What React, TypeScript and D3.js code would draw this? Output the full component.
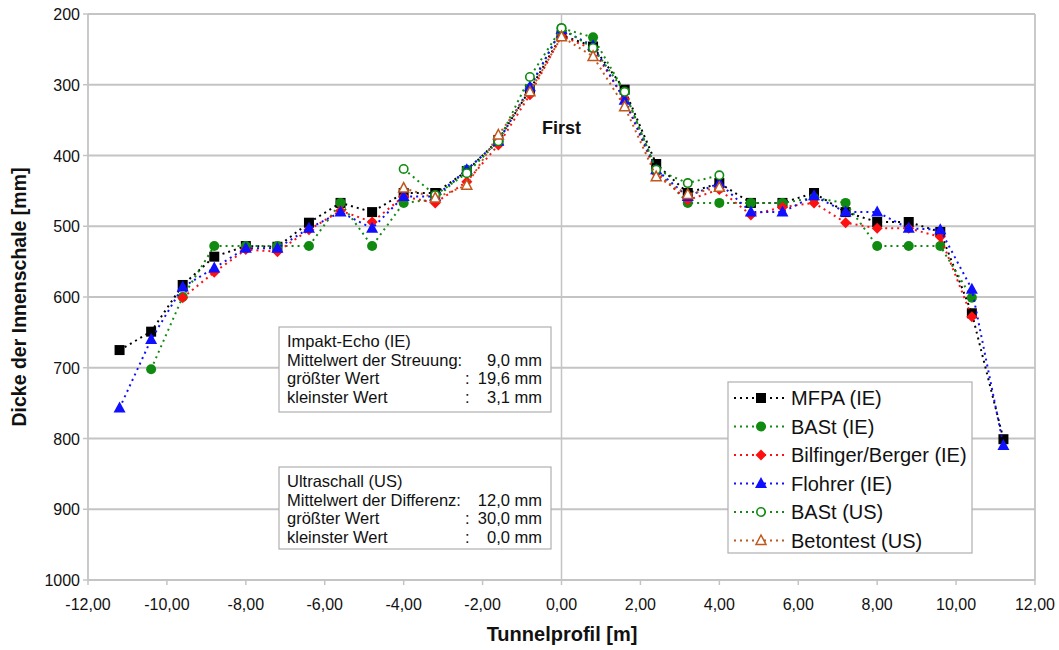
import React from "react";
import * as d3 from "d3";

const xPositions = [-11.2, -10.4, -9.6, -8.8, -8.0, -7.2, -6.4, -5.6, -4.8, -4.0, -3.2, -2.4, -1.6, -0.8, 0, 0.8, 1.6, 2.4, 3.2, 4.0, 4.8, 5.6, 6.4, 7.2, 8.0, 8.8, 9.6, 10.4, 11.2];

const mfpaIE = [675, 649, 583, 543, 528, 529, 495, 467, 480, 453, 453, 422, 378, 307, 230, 246, 307, 412, 453, 439, 467, 467, 453, 480, 494, 494, 508, 623, 801];
const bastIE = [null, 702, 600, 528, 528, 528, 528, 467, 528, 467, 462, 420, 380, 305, 220, 233, 310, 420, 467, 467, 467, 467, 460, 467, 528, 528, 528, 601, null];
const bilfingerIE = [null, null, 601, 565, 533, 536, 505, 478, 494, 458, 467, 437, 385, 314, 231, 250, 320, 425, 463, 448, 484, 473, 467, 495, 503, 503, 515, 628, null];
const flohrerIE = [757, 660, 586, 559, 531, 531, 503, 480, 503, 458, 458, 420, 380, 303, 222, 245, 322, 420, 458, 439, 480, 480, 457, 480, 480, 503, 505, 589, 810];
const bastUS = [null, null, null, null, null, null, null, null, null, 419, 456, 425, 380, 289, 220, 248, 310, 420, 439, 428, null, null, null, null, null, null, null, null, null];
const betontestUS = [null, null, null, null, null, null, null, null, null, 446, 460, 442, 371, 310, 232, 260, 331, 430, 455, 445, null, null, null, null, null, null, null, null, null];

const seriesNames = ["MFPA (IE)", "BASt (IE)", "Bilfinger/Berger (IE)", "Flohrer (IE)", "BASt (US)", "Betontest (US)"];
const seriesValues = [mfpaIE, bastIE, bilfingerIE, flohrerIE, bastUS, betontestUS];
const seriesColors = ["#000000", "#108a10", "#ff1010", "#1010ff", "#108a10", "#c0581c"];
const seriesMarkers = ["square", "circle", "diamond", "triangle", "circleOpen", "triangleOpen"];

const xTicks = [-12, -10, -8, -6, -4, -2, 0, 2, 4, 6, 8, 10, 12];
const yTicks = [200, 300, 400, 500, 600, 700, 800, 900, 1000];

const box1Lines = [
  ["Impakt-Echo (IE)", "", ""],
  ["Mittelwert der Streuung:", "", "9,0 mm"],
  ["größter Wert", ":", "19,6 mm"],
  ["kleinster Wert", ":", "3,1 mm"],
];
const box2Lines = [
  ["Ultraschall (US)", "", ""],
  ["Mittelwert der Differenz:", "", "12,0 mm"],
  ["größter Wert", ":", "30,0 mm"],
  ["kleinster Wert", ":", "0,0 mm"],
];

const FONT = "'Liberation Sans', Arial, sans-serif";

function Marker({ type, x, y, color }: { type: string; x: number; y: number; color: string }) {
  const s = 5;
  if (type === "square") return <rect x={x - s} y={y - s} width={2 * s} height={2 * s} fill={color} />;
  if (type === "circle") return <circle cx={x} cy={y} r={s} fill={color} />;
  if (type === "circleOpen") return <circle cx={x} cy={y} r={4.2} fill="white" stroke={color} strokeWidth={1.6} />;
  if (type === "diamond")
    return <path d={`M${x},${y - 5.5}L${x + 5.5},${y}L${x},${y + 5.5}L${x - 5.5},${y}Z`} fill={color} />;
  if (type === "triangle")
    return <path d={`M${x},${y - 6.5}L${x + 6},${y + 4.5}L${x - 6},${y + 4.5}Z`} fill={color} />;
  if (type === "triangleOpen")
    return <path d={`M${x},${y - 5.5}L${x + 5},${y + 4}L${x - 5},${y + 4}Z`} fill="white" stroke={color} strokeWidth={1.5} />;
  return null;
}

export default function App() {
  const W = 1059, H = 650;
  const left = 88, right = 1035, top = 14, bottom = 580;
  const x = d3.scaleLinear().domain([-12, 12]).range([left, right]);
  const y = d3.scaleLinear().domain([200, 1000]).range([top, bottom]);
  const grid = "#c4c4c4";

  const line = d3
    .line<[number, number | null]>()
    .defined((d) => d[1] !== null)
    .x((d) => x(d[0]))
    .y((d) => y(d[1] as number));

  const legendX = 728, legendY = 382, legendW = 244, legendH = 171;
  const rowH = 28.5;

  const renderBox = (lines: string[][], bx: number, by: number, bw: number, bh: number) => (
    <g>
      <rect x={bx} y={by} width={bw} height={bh} fill="white" stroke="#b0b0b0" strokeWidth={1.2} />
      {lines.map((l, i) => (
        <g key={i} fontFamily={FONT} fontSize={16.5} fill="#111">
          <text x={bx + 8} y={by + 20 + i * 18.6}>{l[0]}</text>
          {l[1] && <text x={bx + 186} y={by + 20 + i * 18.6}>{l[1]}</text>}
          {l[2] && <text x={bx + bw - 9} y={by + 20 + i * 18.6} textAnchor="end">{l[2]}</text>}
        </g>
      ))}
    </g>
  );

  return (
    <svg width={W} height={H} style={{ position: "absolute", left: 0, top: 0, background: "white" }}>
      <rect x={0} y={0} width={W} height={H} fill="white" />
      {yTicks.map((t) => (
        <line key={t} x1={left} x2={right} y1={y(t)} y2={y(t)} stroke={grid} strokeWidth={1.8} />
      ))}
      <line x1={x(0)} x2={x(0)} y1={top} y2={bottom} stroke={grid} strokeWidth={1.5} />
      <line x1={left} x2={left} y1={top} y2={bottom} stroke={grid} strokeWidth={1.8} />
      <line x1={right} x2={right} y1={top} y2={bottom} stroke={grid} strokeWidth={1.8} />
      {xTicks.map((t) => (
        <g key={t}>
          <line x1={x(t)} x2={x(t)} y1={bottom} y2={bottom + 5} stroke={grid} strokeWidth={1.5} />
          <text x={x(t)} y={bottom + 30} textAnchor="middle" fontFamily={FONT} fontSize={16} fill="#111">
            {d3.format(".2f")(t).replace(".", ",").replace("−", "-")}
          </text>
        </g>
      ))}
      {yTicks.map((t) => (
        <g key={t}>
          <line x1={left - 5} x2={left} y1={y(t)} y2={y(t)} stroke={grid} strokeWidth={1.5} />
          <text x={left - 8} y={y(t) + 6} textAnchor="end" fontFamily={FONT} fontSize={16} fill="#111">
            {t}
          </text>
        </g>
      ))}
      <text x={562} y={641} textAnchor="middle" fontFamily={FONT} fontSize={20} fontWeight="bold" fill="#111">
        Tunnelprofil [m]
      </text>
      <text
        transform={`translate(26, ${(top + bottom) / 2}) rotate(-90)`}
        textAnchor="middle"
        fontFamily={FONT}
        fontSize={19.5}
        fontWeight="bold"
        fill="#111"
      >
        Dicke der Innenschale [mm]
      </text>
      <text x={x(0)} y={134} textAnchor="middle" fontFamily={FONT} fontSize={18} fontWeight="bold" fill="#111">
        First
      </text>

      {renderBox(box1Lines, 279, 327, 272, 85)}
      {renderBox(box2Lines, 279, 467, 272, 82)}

      {seriesValues.map((vals, si) => {
        const pts = xPositions.map((xv, i) => [xv, vals[i]] as [number, number | null]);
        return (
          <g key={si}>
            <path
              d={line(pts) || ""}
              fill="none"
              stroke={seriesColors[si]}
              strokeWidth={2}
              strokeDasharray="2,4"
            />
            {pts
              .filter((p) => p[1] !== null)
              .map((p, i) => (
                <Marker key={i} type={seriesMarkers[si]} x={x(p[0])} y={y(p[1] as number)} color={seriesColors[si]} />
              ))}
          </g>
        );
      })}

      <rect x={legendX} y={legendY} width={legendW} height={legendH} fill="white" stroke="#b0b0b0" strokeWidth={1.2} />
      {seriesNames.map((n, i) => {
        const cy = legendY + 16 + i * rowH;
        return (
          <g key={n}>
            <line x1={legendX + 6} x2={legendX + 60} y1={cy} y2={cy} stroke={seriesColors[i]} strokeWidth={2} strokeDasharray="2,4" />
            <Marker type={seriesMarkers[i]} x={legendX + 33} y={cy} color={seriesColors[i]} />
            <text x={legendX + 63} y={cy + 7} fontFamily={FONT} fontSize={20} fill="#111">
              {n}
            </text>
          </g>
        );
      })}
    </svg>
  );
}
